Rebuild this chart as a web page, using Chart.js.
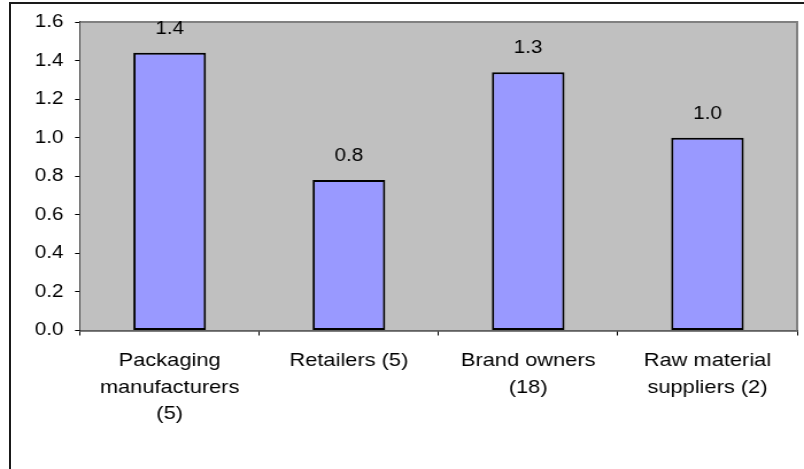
<!DOCTYPE html>
<html>
<head>
<meta charset="utf-8">
<script src="https://cdn.jsdelivr.net/npm/chart.js@4.4.1/dist/chart.umd.min.js"></script>
<style>
  html, body { margin: 0; padding: 0; background: #fff; overflow: hidden; }
  #frame { position: absolute; left: 9px; top: 2px; width: 800px; height: 470px; border-top: 2px solid #1a1a1a; border-left: 2px solid #1a1a1a; }
  /* drawn narrow, shown wide: the old export has horizontally stretched type */
  #chart { position: absolute; left: 0; top: 0; width: 804px; height: 469px; }
</style>
</head>
<body>
<div id="frame"></div>
<canvas id="chart" width="700" height="469" style="width:804px;height:469px"></canvas>
<script>
const SX = 804 / 700;

const categories = [
  ["Packaging", "manufacturers", "(5)"],
  "Retailers (5)",
  ["Brand owners", "(18)"],
  ["Raw material", "suppliers (2)"],
];
const scores = [1.44, 0.78, 1.34, 1.0];
const yMin = 0;
const yMax = 1.6;
const yStep = 0.2;

const FONT = "'Liberation Sans', Arial, sans-serif";

// grey plot background with a darker top/right edge
const plotBackground = {
  id: "plotBackground",
  beforeDatasetsDraw(chart) {
    const { ctx, chartArea: a } = chart;
    ctx.save();
    ctx.fillStyle = "#c0c0c0";
    ctx.fillRect(a.left, a.top, a.right - a.left, a.bottom - a.top);
    ctx.strokeStyle = "#808080";
    ctx.lineWidth = 2;
    ctx.beginPath();
    ctx.moveTo(a.left, a.top);
    ctx.lineTo(a.right, a.top);
    ctx.lineTo(a.right, a.bottom);
    ctx.stroke();
    ctx.restore();
  },
};

// value printed above each bar
const barValues = {
  id: "barValues",
  afterDatasetsDraw(chart) {
    const { ctx } = chart;
    const meta = chart.getDatasetMeta(0);
    ctx.save();
    ctx.font = "18px " + FONT;
    ctx.fillStyle = "#000";
    ctx.textAlign = "center";
    ctx.textBaseline = "middle";
    meta.data.forEach((bar, i) => {
      ctx.fillText(scores[i].toFixed(1), bar.x, bar.y - 24);
    });
    ctx.restore();
  },
};

new Chart(document.getElementById("chart"), {
  type: "bar",
  data: {
    labels: categories,
    datasets: [
      {
        data: scores,
        backgroundColor: "#9999ff",
        borderColor: "#000",
        borderWidth: 2,
        borderSkipped: false,
        categoryPercentage: 1,
        barPercentage: 0.405,
      },
    ],
  },
  options: {
    responsive: false,
    animation: false,
    devicePixelRatio: 1,
    layout: { padding: { top: 22, right: 6, bottom: 0, left: 0 } },
    plugins: { legend: { display: false }, tooltip: { enabled: false } },
    scales: {
      x: {
        afterFit: (s) => { s.height = 469 - 330.5; },
        grid: { offset: true, drawOnChartArea: false, tickLength: 5, color: "#000" },
        border: { color: "#000", width: 1.5 },
        ticks: { color: "#000", padding: 12, font: { family: FONT, size: 19, lineHeight: 1.4 } },
      },
      y: {
        min: yMin,
        max: yMax,
        afterFit: (s) => { s.width = 80 / SX; },
        grid: { drawOnChartArea: false, tickLength: 5 / SX, color: "#000" },
        border: { color: "#000", width: 1.5 },
        ticks: {
          stepSize: yStep,
          color: "#000",
          padding: 10,
          font: { family: FONT, size: 18 },
          callback: (v) => v.toFixed(1),
        },
      },
    },
  },
  plugins: [plotBackground, barValues],
});
</script>
</body>
</html>
